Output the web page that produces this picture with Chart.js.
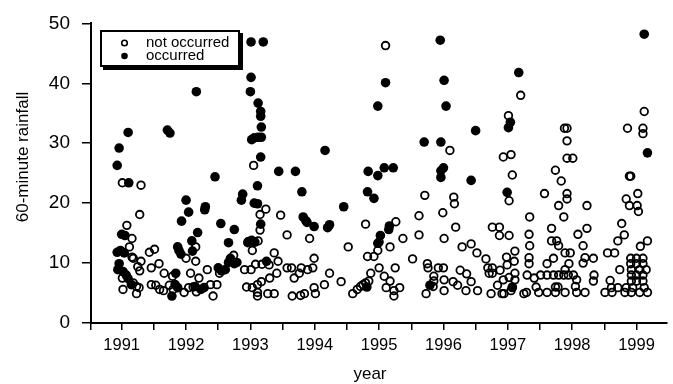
<!DOCTYPE html>
<html>
<head>
<meta charset="utf-8">
<script src="https://cdn.jsdelivr.net/npm/chart.js@4/dist/chart.umd.min.js"></script>
<style>
  html, body { margin: 0; padding: 0; background: #fff; overflow: hidden; }
  canvas { display: block; }
</style>
</head>
<body>
<canvas id="chart" width="673" height="384"></canvas>
<script>
// Axis ticks
const yearTicks = [1991, 1992, 1993, 1994, 1995, 1996, 1997, 1998, 1999];
const halfYearTicks = [1991.5, 1992.5, 1993.5, 1994.5, 1995.5, 1996.5, 1997.5, 1998.5];
const rainfallTicks = [0, 10, 20, 30, 40, 50];

const seriesNames = ['not occurred', 'occurred'];
const xTitle = 'year';
const yTitle = '60-minute rainfall';

// Events without occurrence: date (decimal year) and 60-minute rainfall
const notOccurredYear = [
  1991.01,1991.30,1991.28,1991.08,1991.16,1991.12,1991.16,1991.43,1991.51,1991.18,
  1991.30,1991.46,1991.58,1991.25,1991.28,1991.01,1991.66,1991.79,1991.18,1991.23,
  1991.27,1991.02,1991.23,1991.46,1991.53,1991.59,1991.65,1991.74,1991.80,1991.97,
  1992.00,1992.04,1992.07,1992.11,1992.15,1992.15,1992.16,1992.20,1992.33,1992.38,
  1992.42,1992.48,1992.52,1992.74,1992.91,1992.94,1993.05,1993.15,1993.24,1993.47,
  1993.15,1993.57,1993.92,1993.12,1993.03,1993.37,1993.43,1993.01,1993.08,1993.18,
  1993.29,1993.99,1993.57,1993.64,1993.79,1993.89,1993.97,1993.41,1993.30,1993.68,
  1993.76,1993.03,1993.11,1993.17,1993.11,1993.11,1993.27,1993.37,1993.65,1993.78,
  1993.84,1993.99,1994.01,1994.15,1994.23,1994.41,1994.52,1994.79,1994.82,1994.92,
  1994.59,1994.66,1994.71,1994.75,1994.79,1994.84,1994.87,1994.98,1995.00,1995.00,
  1995.08,1995.11,1995.10,1995.17,1995.26,1995.25,1995.17,1995.23,1995.23,1995.32,
  1995.37,1995.52,1995.62,1995.62,1995.71,1995.73,1995.75,1995.76,1995.84,1995.85,
  1995.85,1995.92,1995.99,1996.00,1996.01,1996.01,1996.01,1996.10,1996.15,1996.16,
  1996.17,1996.19,1996.22,1996.26,1996.29,1996.35,1996.36,1996.43,1996.43,1996.52,
  1996.53,1996.66,1996.69,1996.71,1996.74,1996.76,1996.76,1996.76,1996.84,1996.87,
  1996.87,1996.88,1996.91,1996.93,1996.93,1996.94,1996.98,1996.99,1997.01,1997.02,
  1997.02,1997.02,1997.05,1997.05,1997.07,1997.07,1997.10,1997.11,1997.11,1997.11,
  1997.20,1997.25,1997.29,1997.30,1997.33,1997.34,1997.33,1997.33,1997.34,1997.41,
  1997.44,1997.48,1997.51,1997.57,1997.61,1997.61,1997.61,1997.68,1997.68,1997.71,
  1997.71,1997.74,1997.74,1997.74,1997.76,1997.78,1997.79,1997.79,1997.79,1997.83,
  1997.87,1997.87,1997.88,1997.89,1997.89,1997.89,1997.92,1997.92,1997.92,1997.92,
  1997.92,1997.94,1997.95,1997.97,1998.01,1998.02,1998.05,1998.07,1998.07,1998.09,
  1998.17,1998.17,1998.20,1998.20,1998.23,1998.23,1998.33,1998.33,1998.34,1998.51,
  1998.55,1998.59,1998.61,1998.62,1998.66,1998.71,1998.71,1998.74,1998.77,1998.81,
  1998.82,1998.84,1998.84,1998.86,1998.89,1998.91,1998.89,1998.91,1998.91,1998.92,
  1998.92,1998.92,1998.92,1998.94,1999.00,1999.00,1999.00,1999.00,1999.01,1999.02,
  1999.03,1999.05,1999.05,1999.06,1999.10,1999.10,1999.10,1999.10,1999.10,1999.10,
  1999.12,1999.12,1999.15,1999.17,1999.17
];
const notOccurredRain = [
  23.4,23.0,18.1,16.3,14.1,12.7,11.0,11.8,12.3,10.8,
  10.3,9.2,9.9,9.4,8.7,7.5,8.3,7.8,6.7,6.1,
  5.9,5.6,4.9,6.4,6.3,5.6,5.4,6.3,5.6,5.1,
  10.8,5.9,8.3,6.0,12.7,10.3,5.2,7.5,8.9,6.4,
  4.5,6.4,8.3,11.3,8.9,6.0,26.3,18.1,19.0,18.0,
  15.5,14.7,14.1,13.7,12.1,11.7,10.3,8.9,9.8,9.8,
  9.7,10.8,9.2,9.2,9.2,8.9,9.2,8.3,7.5,7.5,
  8.3,5.9,6.4,6.9,5.1,4.5,4.9,4.9,4.5,4.6,
  4.9,5.9,4.9,6.4,8.3,6.9,12.7,16.5,11.1,11.1,
  4.9,5.6,6.1,6.4,6.7,7.0,8.3,12.1,13.5,9.2,
  7.8,5.9,46.3,12.7,16.9,9.2,7.0,5.4,4.5,5.9,
  14.1,10.7,17.9,14.7,21.3,4.9,9.9,9.2,6.1,7.0,
  7.8,9.2,18.4,9.2,14.1,7.2,5.4,28.8,6.9,21.0,
  19.9,16.0,6.3,8.8,12.7,5.4,8.2,13.2,6.9,11.7,
  5.4,10.7,9.2,8.3,4.9,16.0,9.2,8.3,6.3,16.0,
  14.6,8.8,4.9,27.7,7.2,4.9,11.0,9.7,34.6,20.4,
  14.6,7.6,28.1,5.4,24.7,5.9,10.3,12.0,8.3,7.2,
  38.0,4.9,5.1,8.0,14.8,12.9,10.9,9.9,17.7,7.5,
  6.0,5.1,8.0,21.6,9.9,8.0,5.1,15.8,13.7,10.8,
  8.0,25.5,6.0,5.1,13.7,6.0,19.6,12.9,8.0,23.7,
  17.7,8.0,32.5,11.7,8.9,5.1,32.5,30.4,27.5,21.6,
  20.7,8.0,9.9,11.7,27.5,8.0,6.1,7.2,5.1,14.8,
  12.9,10.0,10.9,5.1,19.6,15.8,10.8,7.0,8.0,5.1,
  11.7,7.1,5.9,5.1,11.7,13.7,5.9,8.9,16.6,14.7,
  5.1,20.7,5.9,32.5,24.5,24.5,19.6,10.8,9.9,8.9,
  8.0,7.0,5.1,5.9,10.8,9.9,8.0,7.0,19.6,21.6,
  18.6,8.9,5.1,12.8,32.5,31.6,10.8,9.9,8.0,7.0,
  35.3,5.9,8.9,13.7,5.1
];

// Events with occurrence
const occurredYear = [
  1990.93,1990.96,1991.10,1991.11,1991.00,1991.05,1990.93,1990.98,1991.04,1990.96,
  1990.94,1991.02,1991.07,1991.10,1991.15,1991.71,1991.75,1991.93,1991.87,1991.89,
  1991.92,1991.84,1991.83,1991.87,1991.78,1992.00,1992.04,1992.09,1992.10,1992.16,
  1992.18,1992.14,1992.23,1992.28,1992.30,1992.29,1992.45,1992.50,1992.55,1992.54,
  1992.61,1992.66,1992.66,1992.69,1992.75,1992.75,1992.79,1992.86,1992.88,1992.96,
  1992.97,1993.02,1993.07,1993.00,1993.01,1993.01,1993.20,1993.12,1993.16,1993.16,
  1993.17,1993.02,1993.06,1993.12,1993.17,1993.16,1993.11,1993.06,1993.11,1993.16,
  1993.25,1993.44,1993.70,1993.80,1993.82,1993.86,1993.88,1993.99,1994.16,1994.20,
  1994.23,1994.45,1994.81,1994.82,1994.92,1994.83,1994.98,1994.98,1994.98,1995.02,
  1995.08,1995.10,1995.15,1995.16,1995.22,1995.70,1995.79,1995.95,1995.96,1995.96,
  1995.96,1996.00,1996.01,1996.04,1996.43,1996.50,1996.99,1997.01,1997.04,1997.07,
  1997.17,1999.12,1999.17
];
const occurredRain = [
  26.3,29.2,31.8,23.4,14.8,14.6,11.8,12.1,11.7,9.9,
  8.9,8.6,8.0,7.4,6.4,32.2,31.7,17.0,12.7,12.1,
  11.5,8.3,6.4,5.9,4.5,20.5,18.5,13.7,12.0,38.6,
  15.1,6.1,5.6,5.9,19.4,18.9,24.4,9.2,8.7,16.6,
  8.9,13.4,10.1,10.8,15.6,9.9,10.1,20.5,21.5,13.4,
  13.6,13.8,13.5,38.6,41.0,46.9,46.9,36.7,35.3,34.5,
  32.7,30.6,30.9,31.0,31.0,27.7,22.9,20.0,19.9,16.5,
  10.3,25.3,25.3,21.9,17.7,17.1,16.8,16.1,28.8,15.9,
  16.4,19.4,6.0,21.9,20.8,25.3,24.6,36.2,13.3,14.6,
  25.9,40.1,15.6,16.2,25.9,30.2,6.3,47.2,30.2,25.4,
  24.3,25.9,40.5,36.2,23.8,32.1,21.8,32.6,33.5,6.0,
  41.8,48.2,28.4
];

const FONT = '"Liberation Sans", Arial, Helvetica, sans-serif';

function toPoints(xs, ys) {
  return xs.map((x, i) => ({ x: x, y: ys[i] }));
}

// Boxed legend with a drop shadow, plus the two axis captions
const annotationsPlugin = {
  id: 'annotations',
  afterDraw(chart) {
    const ctx = chart.ctx;
    ctx.save();

    // legend frame
    const bx = 101, by = 31, bw = 138, bh = 35;
    ctx.fillStyle = '#000';
    ctx.fillRect(bx + 2, by + 2, bw + 2, bh + 2);
    ctx.fillStyle = '#fff';
    ctx.fillRect(bx, by, bw, bh);
    ctx.lineWidth = 2;
    ctx.strokeStyle = '#000';
    ctx.strokeRect(bx, by, bw, bh);

    // legend entries
    ctx.font = '15px ' + FONT;
    ctx.textAlign = 'left';
    ctx.textBaseline = 'middle';
    ctx.fillStyle = '#000';
    ctx.beginPath();
    ctx.arc(124.5, 43, 2.8, 0, Math.PI * 2);
    ctx.lineWidth = 1.6;
    ctx.stroke();
    ctx.fillText(seriesNames[0], 146, 43);
    ctx.beginPath();
    ctx.arc(124.5, 56, 3.3, 0, Math.PI * 2);
    ctx.fill();
    ctx.fillText(seriesNames[1], 146, 56);

    // axis captions
    ctx.font = '17px ' + FONT;
    ctx.textAlign = 'center';
    ctx.textBaseline = 'middle';
    ctx.fillText(xTitle, 370, 374);
    ctx.translate(23, 157);
    ctx.rotate(-Math.PI / 2);
    ctx.fillText(yTitle, 0, 0);
    ctx.restore();
  }
};

Chart.defaults.color = '#000';
Chart.defaults.font.family = FONT;

new Chart(document.getElementById('chart'), {
  type: 'scatter',
  data: {
    datasets: [
      {
        label: seriesNames[1],
        data: toPoints(occurredYear, occurredRain),
        pointRadius: 4.8,
        pointBackgroundColor: '#000',
        pointBorderColor: '#000',
        pointBorderWidth: 0,
        order: 0
      },
      {
        label: seriesNames[0],
        data: toPoints(notOccurredYear, notOccurredRain),
        pointRadius: 3.8,
        pointBackgroundColor: 'rgba(0,0,0,0)',
        pointBorderColor: '#000',
        pointBorderWidth: 1.8,
        order: 1
      }
    ]
  },
  options: {
    responsive: false,
    animation: false,
    devicePixelRatio: 1,
    layout: { padding: { left: 0, right: 0, top: 16, bottom: 0 } },
    plugins: {
      legend: { display: false },
      tooltip: { enabled: false },
      title: { display: false }
    },
    scales: {
      x: {
        type: 'linear',
        min: 1990.523,
        max: 1999.477,
        afterFit(scale) { scale.height = 61; },
        afterBuildTicks(scale) {
          const marks = [scale.min].concat(yearTicks, halfYearTicks).sort((a, b) => a - b);
          scale.ticks = marks.map(v => ({ value: v }));
        },
        ticks: {
          autoSkip: false,
          maxRotation: 0,
          padding: 6,
          font: { size: 16.5 },
          callback: (v) => yearTicks.includes(v) ? String(v) : ''
        },
        grid: {
          drawOnChartArea: false,
          drawTicks: true,
          tickLength: 7,
          color: '#000',
          lineWidth: 1.5
        },
        border: { display: true, color: '#000', width: 2 }
      },
      y: {
        type: 'linear',
        min: 0,
        max: 50,
        afterFit(scale) { scale.width = 91; },
        afterBuildTicks(scale) {
          scale.ticks = rainfallTicks.map(v => ({ value: v }));
        },
        ticks: {
          padding: 12,
          font: { size: 19 },
          callback: (v) => String(v)
        },
        grid: {
          drawOnChartArea: false,
          drawTicks: true,
          tickLength: 9,
          color: '#000',
          lineWidth: 1.5
        },
        border: { display: true, color: '#000', width: 2 }
      }
    }
  },
  plugins: [annotationsPlugin]
});
</script>
</body>
</html>
